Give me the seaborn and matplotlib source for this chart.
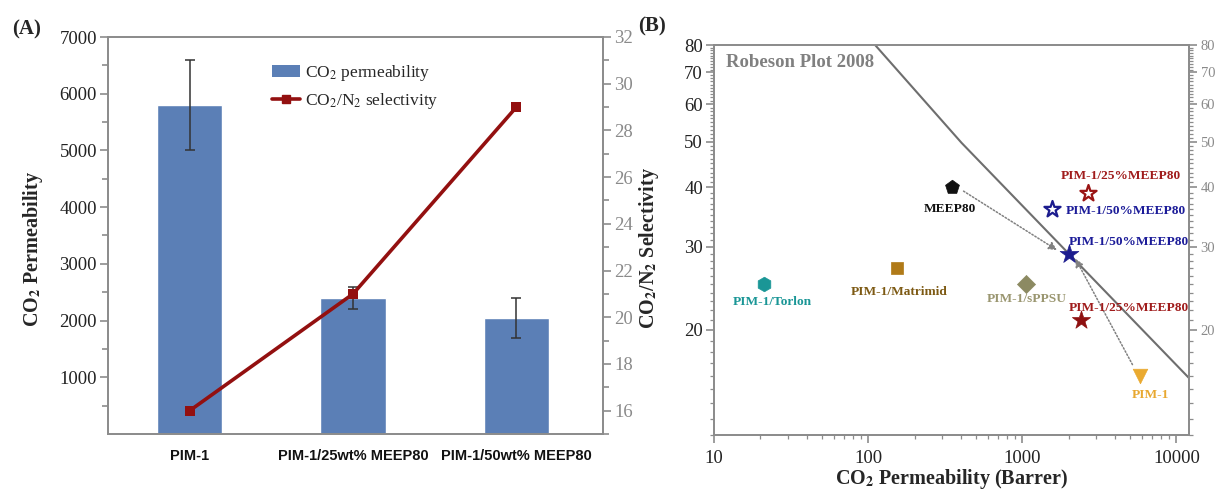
import numpy as np
import pandas as pd
import matplotlib
matplotlib.use("Agg")
import matplotlib.pyplot as plt
import seaborn as sns
from matplotlib.ticker import FixedLocator, FixedFormatter, NullFormatter
from matplotlib.patches import Patch
from matplotlib.lines import Line2D

# ---------------- data: panel A ----------------
categories = ["PIM-1", "PIM-1/25wt% MEEP80", "PIM-1/50wt% MEEP80"]
co2_perm = [5800, 2400, 2050]
co2_perm_err = [800, 200, 350]
selectivity = [16, 21, 29]

# ---------------- data: panel B ----------------
b_names = ["PIM-1/Torlon", "PIM-1/Matrimid", "MEEP80", "PIM-1/sPPSU",
           "PIM-1/25%MEEP80", "PIM-1/50%MEEP80", "PIM-1/50%MEEP80",
           "PIM-1/25%MEEP80", "PIM-1"]
b_perm = [21, 154, 350, 1050, 2670, 1550, 2000, 2400, 5800]
b_sel = [25, 27, 40, 25, 39, 36, 29, 21, 16]
b_markers = ["h", "s", "p", "D", "*", "*", "*", "*", "v"]
b_colors = ["#1a9696", "#b07a18", "#111111", "#8c8a62", "#9a1414",
            "#1c1c8e", "#1c1c8e", "#8e1010", "#eaaa30"]
b_filled = [True, True, True, True, False, False, True, True, True]
b_sizes = [110, 70, 110, 85, 150, 150, 200, 190, 110]
b_label_colors = ["#1a9696", "#7d5a14", "#111111", "#9a9670", "#a01c1c",
                  "#1c1c99", "#1c1c99", "#a01c1c", "#e8a830"]
b_label_x = [24, 158, 338, 1069, 4345, 4690, 4945, 4920, 6760]
b_label_y = [22.9, 24.1, 36.0, 23.2, 42.2, 35.6, 30.7, 22.3, 14.6]

robeson_perm = [111, 404, 12150]
robeson_sel = [80, 49.7, 15.8]

arrow_start_perm = [416, 5190]
arrow_start_sel = [39.3, 16.9]
arrow_end_perm = [1680, 2213]
arrow_end_sel = [29.5, 28.3]

# ---------------- style ----------------
sns.set_theme(style="ticks")
plt.rcParams["font.family"] = ["Liberation Serif", "DejaVu Serif"]
plt.rcParams["mathtext.fontset"] = "stix"
GRAY = "#8c8c8c"

fig = plt.figure(figsize=(12.16, 4.90), dpi=100)
W, H = 1216, 490
axA = fig.add_axes([108 / W, (H - 434) / H, (603 - 108) / W, (434 - 37) / H])
axB = fig.add_axes([714 / W, (H - 435) / H, (1189.4 - 714) / W, (435 - 45) / H])

# ---------------- panel A ----------------
dfA = pd.DataFrame({"cat": categories, "perm": co2_perm, "err": co2_perm_err, "sel": selectivity})
sns.barplot(data=dfA, x="cat", y="perm", color="#5b7fb6", saturation=1, width=0.4,
            errorbar=None, ax=axA, zorder=2)
pos = np.arange(len(categories))
axA.errorbar(pos, dfA["perm"], yerr=dfA["err"], fmt="none", ecolor="#333333",
             elinewidth=1.1, capsize=3.5, capthick=1.1, zorder=3)
axA.set_xlim(-0.5, 2.53)
axA.set_ylim(0, 7000)
axA.yaxis.set_major_locator(FixedLocator([1000, 2000, 3000, 4000, 5000, 6000, 7000]))
axA.yaxis.set_minor_locator(FixedLocator(np.arange(500, 7000, 1000)))
axA.set_xlabel("")
axA.set_ylabel("CO$_{\\mathbf{2}}$ Permeability", fontsize=14.5, fontweight="bold")
axA.yaxis.set_label_coords(-0.128, 0.465)
axA.tick_params(axis="y", which="major", length=6, width=1.2, color=GRAY,
                labelsize=13.5, labelcolor="#222222", pad=2)
axA.tick_params(axis="y", which="minor", length=4, width=1.2, color=GRAY)
axA.tick_params(axis="x", length=0, pad=11)
for lab in axA.get_xticklabels():
    lab.set_fontfamily("Liberation Sans")
    lab.set_fontweight("bold")
    lab.set_fontsize(10.5)
    lab.set_color("#111111")
for sp in axA.spines.values():
    sp.set_color(GRAY)
    sp.set_linewidth(1.3)
    sp.set_visible(True)

axA2 = axA.twinx()
sns.lineplot(x=pos, y=selectivity, ax=axA2, color="#931010", lw=2.6, marker="s",
             markersize=7, markeredgewidth=0, zorder=5)
axA2.set_ylim(15, 32)
axA2.yaxis.set_major_locator(FixedLocator(np.arange(16, 33, 2)))
axA2.yaxis.set_minor_locator(FixedLocator(np.arange(15, 32, 2)))
axA2.tick_params(axis="y", which="major", length=6, width=1.2, color=GRAY,
                 labelsize=13.5, labelcolor="#8a8a8a", pad=2)
axA2.tick_params(axis="y", which="minor", length=4, width=1.2, color=GRAY)
for sp in axA2.spines.values():
    sp.set_color(GRAY)
    sp.set_linewidth(1.3)
axA.set_xlim(-0.5, 2.53)

leg_handles = [Patch(facecolor="#5b7fb6", edgecolor="none"),
               Line2D([], [], color="#931010", lw=2.6, marker="s", markersize=6)]
fig.legend(leg_handles, ["CO$_2$ permeability", "CO$_2$/N$_2$ selectivity"],
           loc="upper left", bbox_to_anchor=(272 / W, (H - 63) / H), frameon=False,
           fontsize=12.5, handlelength=1.6, handletextpad=0.3, labelspacing=0.45,
           borderpad=0, borderaxespad=0)

fig.text(27 / W, (H - 29) / H, "(A)", fontsize=15, fontweight="bold", ha="center", va="center")
fig.text(652 / W, (H - 26) / H, "(B)", fontsize=15, fontweight="bold", ha="center", va="center")

# ---------------- panel B ----------------
axB.set_xscale("log")
axB.set_yscale("log")
axB.set_xlim(10, 12150)
axB.set_ylim(12, 80)

sns.lineplot(x=robeson_perm, y=robeson_sel, ax=axB, color="#6e6e6e", lw=1.5, zorder=2)

for i in range(len(b_names)):
    fc = b_colors[i] if b_filled[i] else "white"
    sns.scatterplot(x=[b_perm[i]], y=[b_sel[i]], ax=axB, marker=b_markers[i], s=b_sizes[i],
                    color=fc, edgecolor=b_colors[i], linewidth=1.6 if not b_filled[i] else 0.5,
                    zorder=4)
    axB.text(b_label_x[i], b_label_y[i], b_names[i], color=b_label_colors[i],
             fontsize=9.6, fontweight="bold", ha="center", va="center", zorder=5)

for i in range(len(arrow_start_perm)):
    axB.annotate("", xy=(arrow_end_perm[i], arrow_end_sel[i]),
                 xytext=(arrow_start_perm[i], arrow_start_sel[i]),
                 arrowprops=dict(arrowstyle="-|>", color="#808080", lw=1.1,
                                 linestyle=(0, (1, 1.3)), mutation_scale=12,
                                 shrinkA=0, shrinkB=0), zorder=3)

axB.text(0.025, 0.955, "Robeson Plot 2008", transform=axB.transAxes, color="#808080",
         fontsize=13.5, fontweight="bold", ha="left", va="center")

axB.xaxis.set_major_locator(FixedLocator([10, 100, 1000, 10000]))
axB.xaxis.set_major_formatter(FixedFormatter(["10", "100", "1000", "10000"]))
minor_x = [m * 10 ** d for d in range(1, 5) for m in range(2, 10)]
axB.xaxis.set_minor_locator(FixedLocator(minor_x))
axB.xaxis.set_minor_formatter(NullFormatter())

major_y = [20, 30, 40, 50, 60, 70, 80]
minor_y = [v for v in range(12, 81) if v not in major_y]
axB.yaxis.set_major_locator(FixedLocator(major_y))
axB.yaxis.set_major_formatter(FixedFormatter([str(v) for v in major_y]))
axB.yaxis.set_minor_locator(FixedLocator(minor_y))
axB.yaxis.set_minor_formatter(NullFormatter())

axB.tick_params(axis="both", which="major", length=6, width=1.2, color=GRAY,
                labelsize=13.5, labelcolor="#222222", pad=2)
axB.tick_params(axis="both", which="minor", length=3, width=0.9, color=GRAY)
axB.tick_params(axis="x", which="major", pad=5)
for sp in axB.spines.values():
    sp.set_color(GRAY)
    sp.set_linewidth(1.3)
    sp.set_visible(True)

axB.set_xlabel("CO$_{\\mathbf{2}}$ Permeability (Barrer)", fontsize=14.5, fontweight="bold", labelpad=0)
axB.xaxis.set_label_coords(0.5, -0.083)
axB.set_ylabel("CO$_{\\mathbf{2}}$/N$_{\\mathbf{2}}$ Selectivity", fontsize=14.5, fontweight="bold")
axB.yaxis.set_label_coords(-0.111, 0.48)

axB2 = axB.twinx()
axB2.set_yscale("log")
axB2.set_ylim(12, 80)
axB2.yaxis.set_major_locator(FixedLocator(major_y))
axB2.yaxis.set_major_formatter(FixedFormatter([str(v) for v in major_y]))
axB2.yaxis.set_minor_locator(FixedLocator(minor_y))
axB2.yaxis.set_minor_formatter(NullFormatter())
axB2.tick_params(axis="y", which="major", length=6, width=1.2, color=GRAY,
                 labelsize=10.5, labelcolor="#8a8a8a", pad=2)
axB2.tick_params(axis="y", which="minor", length=3, width=0.9, color=GRAY)
for sp in axB2.spines.values():
    sp.set_color(GRAY)
    sp.set_linewidth(1.3)

fig.savefig("out.png", dpi=100)
